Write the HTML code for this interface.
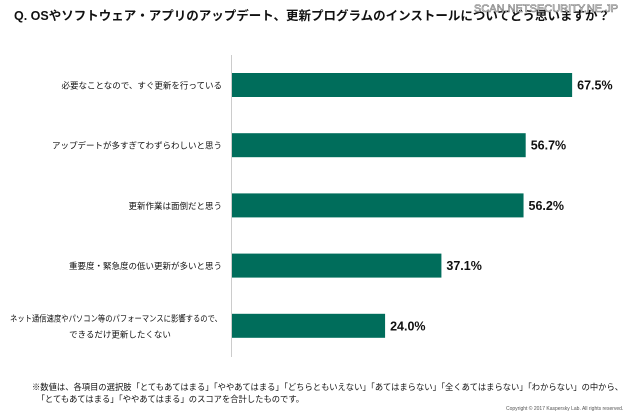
<!DOCTYPE html>
<html><head><meta charset="utf-8">
<style>
body{margin:0;background:#fff;width:640px;height:419px;overflow:hidden;position:relative;font-family:"Liberation Sans","Noto Sans CJK JP",sans-serif;}
.t{position:absolute;white-space:nowrap;color:#111;}
</style></head><body>
<div class="t" style="left:14px;top:5px;font-size:12.5px;font-weight:bold;">Q. OSやソフトウェア・アプリのアップデート、更新プログラムのインストールについてどう思いますか？</div>
<div class="t" style="left:474px;top:3px;font-size:11px;color:#fff;-webkit-text-stroke:0.6px #777;">SCAN.NETSECURITY.NE.JP</div>
<svg id="chart" width="640" height="419" style="position:absolute;left:0;top:0"></svg>
<div class="t" style="left:32px;top:381px;font-size:8.3px;line-height:12px;">※数値は、各項目の選択肢「とてもあてはまる」「ややあてはまる」「どちらともいえない」「あてはまらない」「全くあてはまらない」「わからない」の中から、<br>&nbsp;&nbsp;「とてもあてはまる」「ややあてはまる」のスコアを合計したものです。</div>
<div class="t" style="left:506px;top:406px;font-size:5px;color:#555;">Copyright © 2017 Kaspersky Lab. All rights reserved.</div>
<script>
const categories=[["必要なことなので、すぐ更新を行っている"],["アップデートが多すぎてわずらわしいと思う"],["更新作業は面倒だと思う"],["重要度・緊急度の低い更新が多いと思う"],["ネット通信速度やパソコン等のパフォーマンスに影響するので、","できるだけ更新したくない"]];
const values=[67.5,56.7,56.2,37.1,24.0];
const valueLabels=["67.5%","56.7%","56.2%","37.1%","24.0%"];
const NS="http://www.w3.org/2000/svg";
const svg=document.getElementById('chart');
const x0=232, xMin=-11.6, pxPer=4.3;
function x(v){return x0+(v-xMin)*pxPer;}
function y(i){return 73+i*60.2;}
const bh=24;
const ax=document.createElementNS(NS,'line');


ax.setAttribute('x1',231.5);ax.setAttribute('x2',231.5);ax.setAttribute('y1',55);ax.setAttribute('y2',357);
ax.setAttribute('stroke','#ccc');ax.setAttribute('stroke-width',1);
svg.appendChild(ax);
values.forEach((v,i)=>{
  const r=document.createElementNS(NS,'rect');
  
  
  r.setAttribute('x',x0);r.setAttribute('y',y(i));
  r.setAttribute('width',x(v)-x0);r.setAttribute('height',bh);
  r.setAttribute('fill','#006d5b');
  svg.appendChild(r);
  const t=document.createElementNS(NS,'text');
  
  
  t.setAttribute('x',x(v)+5);t.setAttribute('y',y(i)+bh/2+4.5);
  t.setAttribute('font-size','12.5');t.setAttribute('font-weight','bold');t.setAttribute('fill','#111');
  t.textContent=valueLabels[i];
  svg.appendChild(t);
  const lines=categories[i];
  lines.forEach((ln,j)=>{
    const c=document.createElementNS(NS,'text');
    
    
    const cy=y(i)+bh/2+3.5+(j-(lines.length-1)/2)*16;
    c.setAttribute('y',cy);
    c.setAttribute('font-size','8.5');c.setAttribute('fill','#111');
    if(lines.length>1&&j>0){c.setAttribute('x',120);c.setAttribute('text-anchor','middle');}
    else if(lines.length>1){c.setAttribute('x',10);c.setAttribute('textLength',212);c.setAttribute('lengthAdjust','spacingAndGlyphs');}
    else{c.setAttribute('x',222);c.setAttribute('text-anchor','end');}
    c.textContent=ln;
    svg.appendChild(c);
  });
});
</script>
</body></html>
